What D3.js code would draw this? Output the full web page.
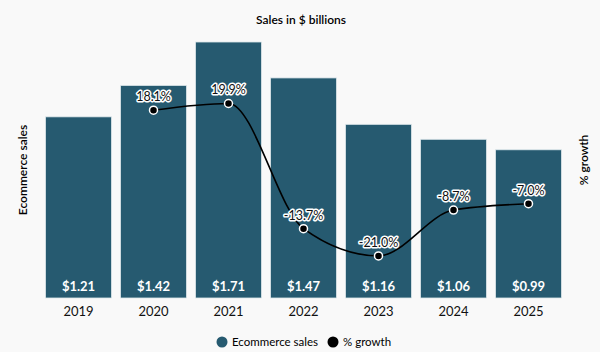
<!DOCTYPE html>
<html>
<head>
<meta charset="utf-8">
<script src="https://cdn.jsdelivr.net/npm/d3@7"></script>
<style>
  body { margin: 0; background: #f9f9f9; }
  svg { font-family: Lato, "Open Sans", sans-serif; }
</style>
</head>
<body>
<div id="chart"></div>
<script>
// data
const years = ["2019", "2020", "2021", "2022", "2023", "2024", "2025"];
const sales = [1.21, 1.42, 1.71, 1.47, 1.16, 1.06, 0.99];
const growthYears = ["2020", "2021", "2022", "2023", "2024", "2025"];
const growth = [18.1, 19.9, -13.7, -21.0, -8.7, -7.0];

const width = 600, height = 352;
const margin = { top: 42, bottom: 54, left: 41, right: 34 };

const svg = d3.select("#chart").append("svg")
  .attr("width", width)
  .attr("height", height);

svg.append("rect").attr("width", width).attr("height", height).attr("fill", "#f9f9f9");

const x = d3.scaleBand()
  .domain(years)
  .range([margin.left, width - margin.right])
  .paddingInner(0.12)
  .paddingOuter(0.06);

const y = d3.scaleLinear()
  .domain([0, 1.71])
  .range([height - margin.bottom, margin.top]);

// right scale for growth (axis itself is hidden)
const y2 = d3.scaleLinear()
  .domain([-32.3, 36.4])
  .range([height - margin.bottom, margin.top]);

// bars
svg.append("g")
  .selectAll("rect")
  .data(sales)
  .join("rect")
  .attr("x", (d, i) => x(years[i]))
  .attr("y", d => y(d))
  .attr("width", x.bandwidth())
  .attr("height", d => y(0) - y(d))
  .attr("fill", "#265a70")
  .attr("stroke", "#dfe8ec")
  .attr("stroke-width", 0.8);

// value labels in bars
svg.append("g")
  .selectAll("text")
  .data(sales)
  .join("text")
  .attr("x", (d, i) => x(years[i]) + x.bandwidth() / 2)
  .attr("y", y(0) - 7)
  .attr("text-anchor", "middle")
  .attr("fill", "white")
  .style("font-size", "13px")
  .style("font-weight", "bold")
  .text(d => "$" + d.toFixed(2));

// x axis labels
svg.append("g")
  .attr("transform", `translate(0,${y(0)})`)
  .call(d3.axisBottom(x).tickSize(0).tickPadding(9))
  .call(g => g.select(".domain").remove())
  .call(g => g.selectAll("text")
    .style("font-size", "13px")
    .style("font-family", "Lato, sans-serif")
    .attr("fill", "#111"));

// growth line
const line = d3.line()
  .x((d, i) => x(growthYears[i]) + x.bandwidth() / 2)
  .y(d => y2(d))
  .curve(d3.curveMonotoneX);

svg.append("path")
  .datum(growth)
  .attr("d", line)
  .attr("fill", "none")
  .attr("stroke", "#000")
  .attr("stroke-width", 1.6);

svg.append("g")
  .selectAll("circle")
  .data(growth)
  .join("circle")
  .attr("cx", (d, i) => x(growthYears[i]) + x.bandwidth() / 2)
  .attr("cy", d => y2(d))
  .attr("r", 4)
  .attr("fill", "#000")
  .attr("stroke", "white")
  .attr("stroke-width", 1.5);

svg.append("g")
  .selectAll("text")
  .data(growth)
  .join("text")
  .attr("x", (d, i) => x(growthYears[i]) + x.bandwidth() / 2)
  .attr("y", d => y2(d) - 9)
  .attr("text-anchor", "middle")
  .style("font-size", "12.5px")
  .attr("fill", "#111")
  .attr("stroke", "white")
  .attr("stroke-width", 3)
  .attr("stroke-linejoin", "round")
  .attr("paint-order", "stroke")
  .text(d => d.toFixed(1) + "%");

// title
svg.append("text")
  .attr("x", 301)
  .attr("y", 24)
  .attr("text-anchor", "middle")
  .style("font-size", "12px")
  .style("font-weight", "600")
  .text("Sales in $ billions");

// axis titles
svg.append("text")
  .attr("transform", "translate(27,170) rotate(-90)")
  .attr("text-anchor", "middle")
  .style("font-size", "12px")
  .style("font-weight", "600")
  .text("Ecommerce sales");

svg.append("text")
  .attr("transform", "translate(588,160) rotate(-90)")
  .attr("text-anchor", "middle")
  .style("font-size", "12px")
  .style("font-weight", "600")
  .text("% growth");

// legend
const legend = svg.append("g").attr("transform", "translate(0,342)");
legend.append("circle").attr("cx", 222).attr("cy", 0).attr("r", 5.5).attr("fill", "#265a70");
legend.append("text").attr("x", 232).attr("y", 4).style("font-size", "11.5px").text("Ecommerce sales");
legend.append("circle").attr("cx", 333).attr("cy", 0).attr("r", 5.5).attr("fill", "#000");
legend.append("text").attr("x", 343).attr("y", 4).style("font-size", "11.5px").text("% growth");
</script>
</body>
</html>
